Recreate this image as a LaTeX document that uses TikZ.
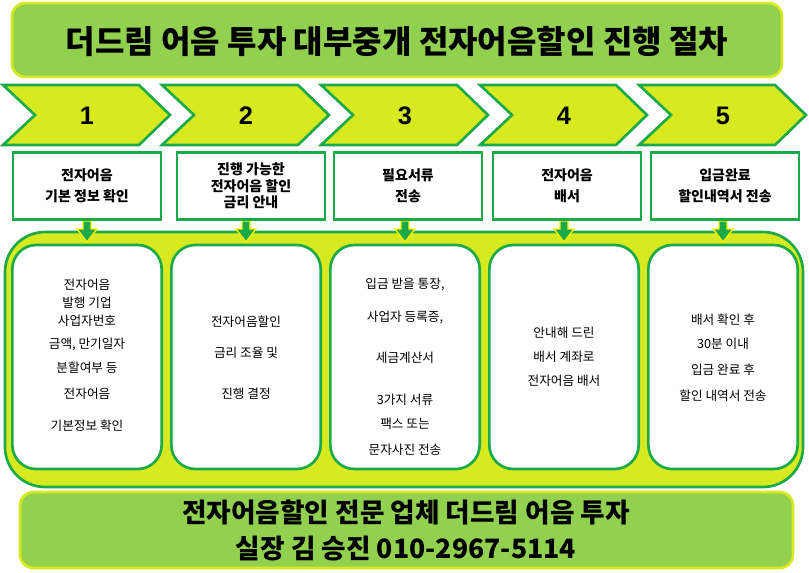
\documentclass[tikz,border=0pt]{standalone}
\usepackage{fontspec}
\setmainfont{Noto Sans CJK KR}
\newfontfamily\hfont{Liberation Sans}
\definecolor{lgreen}{HTML}{92D050}
\definecolor{lime}{HTML}{D7E91F}
\definecolor{dgreen}{HTML}{1BAA4A}
\begin{document}
\begin{tikzpicture}[x=0.75pt,y=-0.75pt,
        titlebox/.style={draw=lime, line width=2pt, fill=lgreen, rounded corners=10pt},
        chevron/.style={draw=dgreen, line width=2pt, fill=lime},
        headbox/.style={draw=dgreen, line width=2pt, fill=white, minimum width=111pt, minimum height=50pt, inner sep=1pt, align=center, font=\bfseries\fontsize{10.5}{16}\selectfont},
        bodybox/.style={draw=dgreen, line width=2pt, fill=white, rounded corners=18pt, minimum width=112pt, minimum height=168pt},
        bodytext/.style={font=\fontsize{9.5}{11}\selectfont},
        downarrow/.style={draw=yellow, fill=dgreen, line width=1pt}
    ]
        \useasboundingbox (0,0) rectangle (809,572);

        % Title
        \draw[titlebox] (12,3) rectangle (782,77);
        \node[font=\bfseries\fontsize{24}{28}\selectfont] (title) at (397,41) {더드림 어음 투자 대부중개 전자어음할인 진행 절차};

        % Container
        \draw[draw=dgreen, line width=2pt, fill=lime, rounded corners=30pt] (5,232) rectangle (803,487);

        % Steps
        \foreach \i/\x in {1/87,2/246,3/405,4/564,5/723} {
            \draw[chevron] (\x-84,85) -- (\x+52,85) -- (\x+83,115) -- (\x+52,145) -- (\x-84,145) -- (\x-52,115) -- cycle;
            \node[font=\hfont\bfseries\fontsize{19}{22}\selectfont] (num\i) at (\x,116) {\i};
            \node[bodybox] (body\i) at (\x,357) {};
            \draw[downarrow] (\x-4,221) -- (\x+4,221) -- (\x+4,229) -- (\x+10,229) -- (\x,242) -- (\x-10,229) -- (\x-4,229) -- cycle;
        }
        \node[headbox] (head1) at (87,186) {전자어음\\기본 정보 확인};
        \node[headbox, font=\bfseries\fontsize{10.5}{12.5}\selectfont] (head2) at (251,186) {진행 가능한\\전자어음 할인\\금리 안내};
        \node[headbox] (head3) at (408,186) {필요서류\\전송};
        \node[headbox] (head4) at (567,186) {전자어음\\배서};
        \node[headbox] (head5) at (725,186) {입금완료\\할인내역서 전송};

        % Body texts
        \foreach \t/\y [count=\k] in {전자어음/285,발행 기업/303,사업자번호/321,{금액, 만기일자}/344,분할여부 등/368,전자어음/394,기본정보 확인/426}
            \node[bodytext] (ta\k) at (87,\y) {\t};
        \foreach \t/\y [count=\k] in {전자어음할인/322,금리 조율 및/353,진행 결정/394}
            \node[bodytext] (tb\k) at (246,\y) {\t};
        \foreach \t/\y [count=\k] in {{입금 받을 통장,}/284,{사업자 등록증,}/317,세금계산서/358,3가지 서류/400,팩스 또는/424,문자사진 전송/450}
            \node[bodytext] (tc\k) at (405,\y) {\t};
        \foreach \t/\y [count=\k] in {안내해 드린/333,배서 계좌로/357,전자어음 배서/381}
            \node[bodytext] (td\k) at (564,\y) {\t};
        \foreach \t/\y [count=\k] in {배서 확인 후/320,30분 이내/344,입금 완료 후/370,할인 내역서 전송/396}
            \node[bodytext] (te\k) at (723,\y) {\t};

        % Footer
        \draw[titlebox] (20,492) rectangle (793,568);
        \node[font=\bfseries\fontsize{20}{27}\selectfont, align=center] (footer) at (406,530) {전자어음할인 전문 업체 더드림 어음 투자\\실장 김 승진 010-2967-5114};
    \end{tikzpicture}
\end{document}
